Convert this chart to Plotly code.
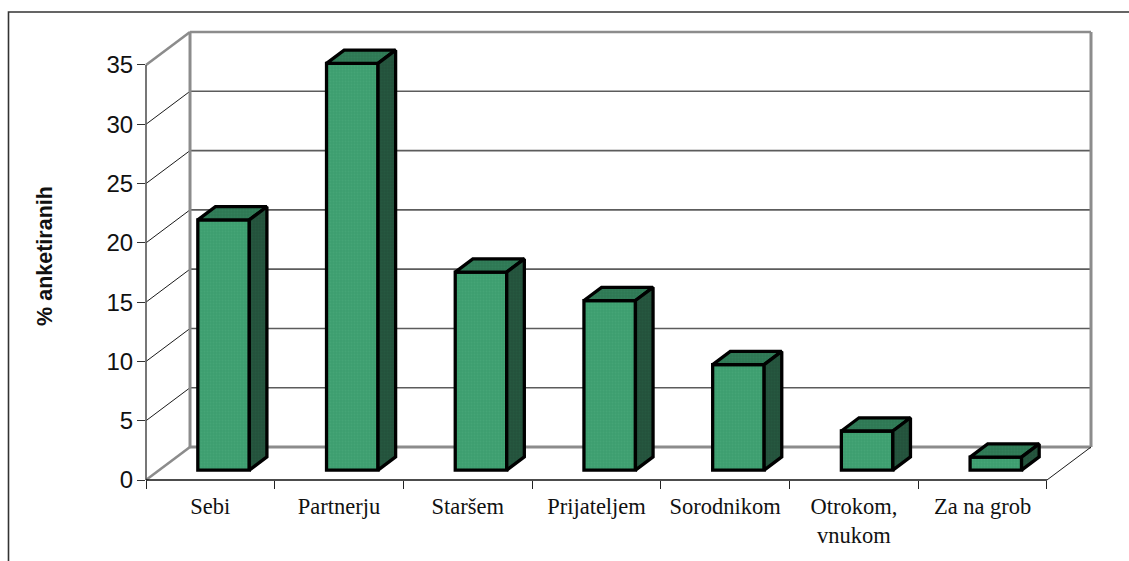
import plotly.graph_objects as go

# Survey results: who the respondents buy for
categories = ["Sebi", "Partnerju", "Staršem", "Prijateljem", "Sorodnikom", "Otrokom,<br>vnukom", "Za na grob"]
values = [21.1, 34.3, 16.7, 14.3, 8.9, 3.3, 1.1]
y_ticks = [0, 5, 10, 15, 20, 25, 30, 35]

# Oblique projection of the box, in axis units
DEPTH_X = 0.342
DEPTH_Y = 2.78
NEAR = 0.30   # depth of a bar's front face
FAR = 0.70    # depth of a bar's back face
BAR_WIDTH = 0.4
N = len(categories)
X_MAX = N + DEPTH_X
Y_TOP = y_ticks[-1]
Y_MAX = Y_TOP + DEPTH_Y

# Plot area in pixels
PLOT_L, PLOT_T, PLOT_W, PLOT_H = 146, 32, 945, 448
WIDTH, HEIGHT = 1129, 561

FRONT = "#3d9e6f"
TOP = "#2e7854"
SIDE = "#23523b"
EDGE = "#000000"
WALL = "#8c8c8c"
GRID = "#5c5c5c"
LINE_W = 3.3


def dots(fg, bg):
    return dict(shape=".", size=3, solidity=0.3, fgcolor=fg, bgcolor=bg)


def seg(x0, y0, x1, y1, color, width):
    # Paper coordinates keep lines on the plot edge from being clipped in half
    return dict(type="line", xref="paper", yref="paper",
                x0=x0 / X_MAX, y0=y0 / Y_MAX, x1=x1 / X_MAX, y1=y1 / Y_MAX,
                layer="below", line=dict(color=color, width=width))


def px_x(p):
    return (p - PLOT_L) / PLOT_W


def px_y(p):
    return 1 - (p - PLOT_T) / PLOT_H


shapes = []
# Back wall gridlines and the receding lines of the side wall
for v in y_ticks[1:-1]:
    shapes.append(seg(DEPTH_X, v + DEPTH_Y, X_MAX, v + DEPTH_Y, GRID, 1.6))
    shapes.append(seg(0, v, DEPTH_X, v + DEPTH_Y, "#1a1a1a", 1))
# Wall outline and floor
shapes += [
    seg(DEPTH_X, DEPTH_Y, DEPTH_X, Y_MAX, WALL, 3),
    seg(DEPTH_X, Y_MAX, X_MAX, Y_MAX, WALL, 2.6),
    seg(X_MAX, DEPTH_Y, X_MAX, Y_MAX, WALL, 3),
    seg(DEPTH_X, DEPTH_Y, X_MAX, DEPTH_Y, WALL, 3),
    seg(0, 0, DEPTH_X, DEPTH_Y, WALL, 2.6),
    seg(0, Y_TOP, DEPTH_X, Y_MAX, WALL, 2.6),
    seg(N, 0, X_MAX, DEPTH_Y, "#1a1a1a", 1),
    seg(0, 0, 0, Y_TOP, "#555555", 1.6),
    seg(0, 0, N, 0, "#111111", 1.3),
]
# Frame around the chart, open at the bottom
shapes.append(dict(type="path", xref="paper", yref="paper", layer="above",
                   path=f"M {px_x(8.5)} {px_y(561)} L {px_x(8.5)} {px_y(12)} L {px_x(1129)} {px_y(12)}",
                   line=dict(color="#333333", width=1.6)))

fig = go.Figure()

# Front faces, lifted and shifted to the bars' depth
centers = [i + 0.5 for i in range(N)]
base = NEAR * DEPTH_Y
fig.add_trace(go.Bar(
    x=[c + NEAR * DEPTH_X for c in centers],
    y=values,
    base=base,
    width=BAR_WIDTH,
    marker=dict(color=FRONT, line=dict(color=EDGE, width=LINE_W),
                pattern=dots("#4dab7e", FRONT)),
    hoverinfo="skip",
))

near_dx, near_dy = NEAR * DEPTH_X, NEAR * DEPTH_Y
far_dx, far_dy = FAR * DEPTH_X, FAR * DEPTH_Y
for c, v in zip(centers, values):
    left, right = c - BAR_WIDTH / 2, c + BAR_WIDTH / 2
    # top face
    fig.add_trace(go.Scatter(
        x=[left + near_dx, right + near_dx, right + far_dx, left + far_dx, left + near_dx],
        y=[v + near_dy, v + near_dy, v + far_dy, v + far_dy, v + near_dy],
        mode="lines", fill="toself", fillcolor=TOP, fillpattern=dots("#38865f", TOP),
        line=dict(color=EDGE, width=LINE_W), hoverinfo="skip"))
    # right side face
    fig.add_trace(go.Scatter(
        x=[right + near_dx, right + far_dx, right + far_dx, right + near_dx, right + near_dx],
        y=[near_dy, far_dy, v + far_dy, v + near_dy, near_dy],
        mode="lines", fill="toself", fillcolor=SIDE, fillpattern=dots("#2a5e45", SIDE),
        line=dict(color=EDGE, width=LINE_W), hoverinfo="skip"))

fig.update_layout(
    width=WIDTH, height=HEIGHT,
    margin=dict(l=PLOT_L, t=PLOT_T, r=WIDTH - PLOT_L - PLOT_W, b=HEIGHT - PLOT_T - PLOT_H, pad=0),
    paper_bgcolor="white", plot_bgcolor="white",
    showlegend=False, shapes=shapes,
    xaxis=dict(range=[0, X_MAX], tickmode="array", tickvals=centers, ticktext=categories,
               ticks="", showgrid=False, zeroline=False, showline=False,
               ticklabelstandoff=10,
               tickfont=dict(family="Liberation Serif", size=22.5, color="#111111"),
               minor=dict(tickmode="array", tickvals=list(range(N + 1)), ticks="outside",
                          ticklen=8, tickwidth=1.3, tickcolor="#222222", showgrid=False)),
    yaxis=dict(range=[0, Y_MAX], tickmode="array", tickvals=y_ticks, ticks="outside",
               ticklen=8, tickwidth=1.3, tickcolor="#333333", showgrid=False, zeroline=False,
               showline=False, ticklabelstandoff=-1,
               tickfont=dict(family="Liberation Sans", size=24, color="#111111"),
               title=dict(text="<b>% anketiranih</b>", standoff=47,
                          font=dict(family="Liberation Sans", size=21.5, color="#111111"))),
)

fig.write_html("out.html", config=dict(displayModeBar=False))
